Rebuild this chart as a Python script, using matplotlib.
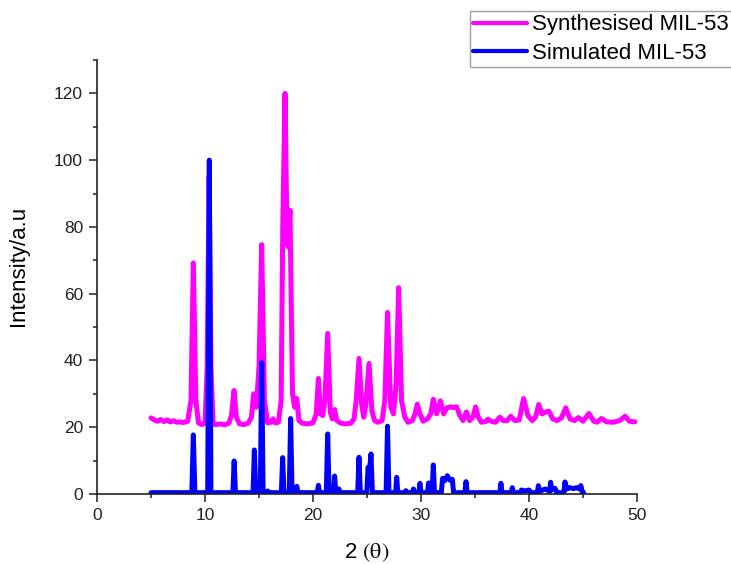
import matplotlib
matplotlib.use("Agg")
import matplotlib.pyplot as plt
from matplotlib.ticker import MultipleLocator

plt.rcParams["font.family"] = ["Liberation Sans", "DejaVu Sans"]
plt.rcParams["mathtext.fontset"] = "stix"

# Synthesised MIL-53 diffractogram (2theta, intensity)
synth_x = [5.0, 5.3, 5.6, 5.9, 6.2, 6.5, 6.8, 7.1, 7.4, 7.7, 8.0, 8.4, 8.7, 8.92, 9.15,
           9.4, 9.7, 10.0, 10.2, 10.38, 10.55, 10.75, 11.0, 11.4, 11.8, 12.2, 12.45, 12.69,
           12.9, 13.2, 13.6, 14.0, 14.3, 14.5, 14.75, 15.0, 15.25, 15.5, 15.8, 16.1, 16.3,
           16.5, 16.8, 17.05, 17.2, 17.41, 17.6, 17.7, 17.87, 18.1, 18.3, 18.5, 18.7, 19.0,
           19.5, 20.0, 20.3, 20.5, 20.7, 20.9, 21.1, 21.36, 21.6, 21.8, 22.0, 22.2, 22.6,
           23.0, 23.5, 23.8, 24.0, 24.26, 24.5, 24.7, 24.9, 25.19, 25.45, 25.7, 26.0, 26.4,
           26.65, 26.9, 27.2, 27.45, 27.7, 27.93, 28.2, 28.5, 28.8, 29.2, 29.45, 29.65,
           29.9, 30.2, 30.6, 30.9, 31.14, 31.45, 31.8, 32.1, 32.4, 32.7, 33.0, 33.3, 33.6,
           33.9, 34.2, 34.5, 34.8, 35.06, 35.3, 35.6, 36.0, 36.2, 36.5, 36.9, 37.3, 37.6,
           38.0, 38.3, 38.7, 39.1, 39.5, 39.9, 40.3, 40.6, 40.9, 41.2, 41.5, 41.85, 42.2,
           42.6, 43.0, 43.4, 43.8, 44.2, 44.57, 45.0, 45.55, 46.0, 46.3, 46.7, 47.2, 47.8,
           48.4, 48.9, 49.3, 49.8]
synth_y = [22.8, 22.2, 21.8, 22.3, 21.7, 22.2, 21.6, 21.9, 21.5, 21.6, 21.4, 21.8, 28.0, 69.2, 28.0,
           21.3, 20.8, 21.2, 38.0, 95.0, 38.0, 21.0, 20.8, 21.0, 20.7, 21.2, 23.5, 31.0,
           23.0, 21.0, 20.8, 21.2, 23.0, 30.0, 26.0, 38.0, 74.7, 28.0, 21.3, 21.5, 22.5,
           21.3, 21.5, 28.0, 80.0, 120.0, 76.0, 74.0, 85.0, 30.0, 26.0, 28.6, 22.0, 21.2,
           21.0, 21.3, 24.0, 34.6, 24.0, 23.5, 28.0, 48.1, 24.5, 22.5, 25.3, 22.0, 21.2,
           21.0, 21.2, 22.5, 28.0, 40.6, 27.0, 23.0, 27.0, 39.1, 25.0, 22.0, 21.5, 22.0,
           28.0, 54.4, 26.0, 24.0, 33.0, 61.8, 28.0, 23.0, 21.5, 22.0, 24.0, 26.9,
           24.0, 21.8, 22.5, 24.0, 28.4, 24.0, 27.9, 24.0, 25.8, 26.1, 25.9, 26.1, 23.5,
           22.0, 24.6, 22.0, 23.0, 26.1, 23.0, 21.5, 21.7, 22.4, 21.8, 21.5, 23.0, 22.0,
           22.0, 23.3, 22.0, 22.2, 28.6, 23.5, 22.0, 23.0, 26.8, 24.0, 24.5, 24.8, 22.5,
           22.0, 22.8, 25.8, 22.5, 22.0, 22.9, 21.8, 24.1, 21.8, 21.5, 22.6, 21.6, 21.5,
           22.0, 23.3, 21.8, 21.6]

# Simulated MIL-53 pattern (2theta, intensity)
sim_x = [5.0, 8.78, 8.92, 9.06, 10.25, 10.4, 10.55, 12.58, 12.7, 12.82, 14.45, 14.57, 14.7,
         15.12, 15.25, 15.38, 15.7, 15.8, 15.9, 17.07, 17.19, 17.31, 17.8, 17.93, 18.06,
         18.4, 18.5, 18.6, 20.4, 20.5, 20.6, 21.23, 21.36, 21.49, 21.9, 22.0, 22.12, 22.3,
         22.4, 22.5, 24.14, 24.26, 24.38, 24.98, 25.1, 25.22, 25.37, 25.5, 26.77, 26.9,
         27.03, 27.65, 27.75, 27.85, 28.5, 28.6, 28.7, 29.2, 29.3, 29.4, 29.8, 29.9, 30.0,
         30.6, 30.7, 30.8, 31.03, 31.14, 31.25, 31.88, 32.0, 32.2, 32.44, 32.65, 32.9,
         33.02, 34.07, 34.17, 34.27, 37.3, 37.4, 37.5, 38.35, 38.45, 38.55, 39.2, 39.3,
         39.6, 40.0, 40.2, 40.77, 40.87, 41.0, 41.5, 41.9, 42.0, 42.12, 42.4, 42.6, 43.23,
         43.33, 43.5, 43.8, 44.1, 44.4, 44.7, 44.8, 44.95, 45.05]
sim_y = [0.4, 0.4, 17.7, 0.4, 0.4, 100.0, 0.4, 0.4, 9.9, 0.4, 0.4, 13.2, 0.4,
         0.4, 39.3, 0.4, 0.4, 0.9, 0.4, 0.4, 10.9, 0.4, 0.4, 22.6, 0.4,
         0.4, 2.3, 0.4, 0.4, 2.6, 0.4, 0.4, 18.0, 0.4, 0.4, 5.4, 0.4, 0.4,
         1.5, 0.4, 0.4, 11.0, 0.4, 0.4, 8.0, 6.5, 12.0, 0.4, 0.4, 20.3,
         0.4, 0.4, 5.0, 0.4, 0.4, 1.0, 0.4, 0.4, 1.5, 0.4, 0.4, 3.2, 0.4,
         0.4, 3.3, 0.4, 0.4, 8.7, 0.4, 0.4, 4.7, 4.0, 5.5, 4.2, 4.4,
         0.4, 0.4, 3.7, 0.4, 0.4, 3.2, 0.4, 0.4, 1.9, 0.4, 0.4, 1.2,
         0.9, 1.2, 0.4, 0.4, 2.5, 0.8, 1.5, 0.8, 3.5, 1.2, 1.7, 0.4, 0.4,
         3.6, 1.5, 1.9, 1.6, 1.9, 1.5, 2.5, 0.4, 0.4]

x_ticks = [0, 10, 20, 30, 40, 50]
y_ticks = [0, 20, 40, 60, 80, 100, 120]

fig = plt.figure(figsize=(7.31, 5.64), dpi=100)
ax = fig.add_axes([97 / 731, 1 - 494 / 564, 540 / 731, 434 / 564])

ax.plot(synth_x, synth_y, color="#FF00FF", lw=3.6, solid_joinstyle="round",
        solid_capstyle="round", label="Synthesised MIL-53")
ax.plot(sim_x, sim_y, color="#0000FF", lw=3.6, solid_joinstyle="round",
        solid_capstyle="round", label="Simulated MIL-53")

ax.set_xlim(0, 50)
ax.set_ylim(0, 130)
ax.set_xticks(x_ticks)
ax.set_yticks(y_ticks)
ax.xaxis.set_minor_locator(MultipleLocator(5))
ax.yaxis.set_minor_locator(MultipleLocator(10))

for side in ("top", "right"):
    ax.spines[side].set_visible(False)
for side in ("left", "bottom"):
    ax.spines[side].set_linewidth(1.2)
    ax.spines[side].set_color("#222222")

ax.tick_params(which="major", direction="out", length=6, width=1.1, color="#222222",
               labelsize=12.5, labelcolor="#222222", pad=4)
ax.tick_params(which="minor", direction="out", length=3, width=1.1, color="#222222")

ax.set_xlabel(r"2 $\mathrm{(\theta)}$", fontsize=16)
ax.xaxis.set_label_coords(0.5, -0.108)
ax.set_ylabel("Intensity/a.u", fontsize=16)
ax.yaxis.set_label_coords(-0.125, 0.525)

leg = fig.legend(loc="upper left", bbox_to_anchor=(470 / 731, 1 - 11 / 564),
                 fontsize=16, frameon=True, fancybox=False, borderpad=0.15,
                 labelspacing=0.35, handlelength=2.4, handletextpad=0.25,
                 borderaxespad=0)
leg.get_frame().set_edgecolor("#888888")
leg.get_frame().set_linewidth(1.0)
for line in leg.get_lines():
    line.set_linewidth(3.0)

fig.savefig("out.png", dpi=100)
